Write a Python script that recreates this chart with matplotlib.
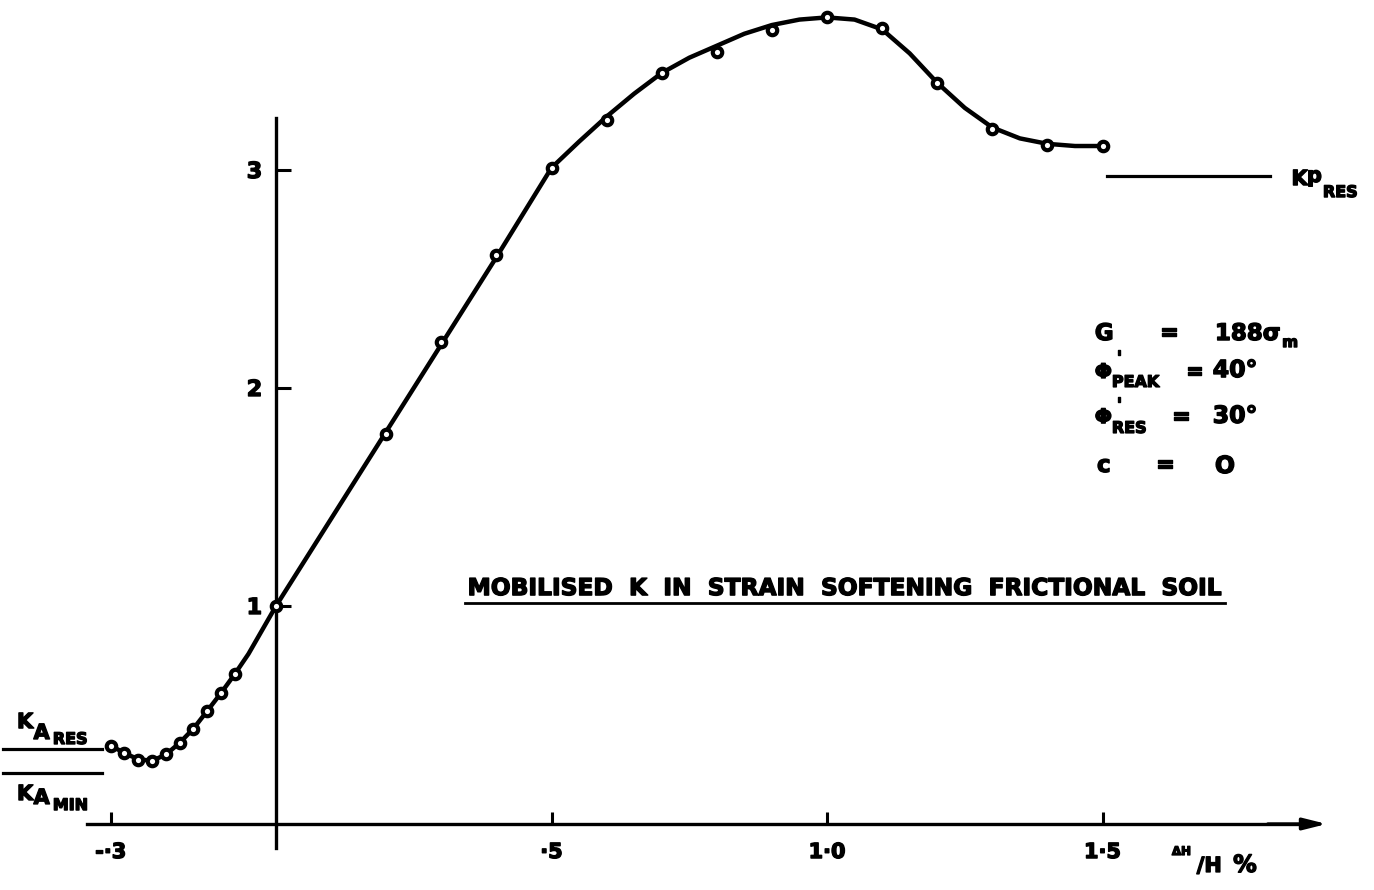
import matplotlib
matplotlib.use("Agg")
import matplotlib.pyplot as plt
import matplotlib.patheffects as pe

plt.rcParams['font.family'] = ['DejaVu Sans']
plt.rcParams['font.weight'] = 'bold'

# measured points, Delta H / H (%) vs mobilised K
strain = [-0.3, -0.275, -0.25, -0.225, -0.2, -0.175, -0.15, -0.125, -0.1, -0.075,
          0.0, 0.2, 0.3, 0.4, 0.5, 0.6, 0.7, 0.8, 0.9, 1.0,
          1.1, 1.2, 1.3, 1.4, 1.5]
k_mob = [0.36, 0.325, 0.295, 0.29, 0.32, 0.372, 0.437, 0.518, 0.60, 0.687,
         1.0, 1.79, 2.21, 2.61, 3.01, 3.23, 3.445, 3.54, 3.64, 3.70,
         3.65, 3.40, 3.19, 3.115, 3.11]

# hand drawn curve through the points
curve_x = [-0.3, -0.275, -0.25, -0.225, -0.2, -0.175, -0.15, -0.125, -0.1, -0.075,
           -0.05, -0.025, 0.0, 0.1, 0.2, 0.3, 0.4, 0.5, 0.55, 0.6,
           0.65, 0.7, 0.75, 0.8, 0.85, 0.9, 0.95, 1.0, 1.05, 1.1,
           1.15, 1.2, 1.25, 1.3, 1.35, 1.4, 1.45, 1.5]
curve_y = [0.36, 0.325, 0.297, 0.29, 0.318, 0.372, 0.437, 0.518, 0.60, 0.687,
           0.78, 0.89, 1.0, 1.4, 1.8, 2.2, 2.6, 3.01, 3.13, 3.245,
           3.35, 3.445, 3.515, 3.57, 3.625, 3.665, 3.69, 3.70, 3.69, 3.645,
           3.535, 3.40, 3.285, 3.195, 3.145, 3.12, 3.11, 3.11]

# limiting earth pressure coefficients
KA_RES = 0.344
KA_MIN = 0.233
KP_RES = 2.974

xticks = [-0.3, 0.5, 1.0, 1.5]
xtick_labels = ['-·3', '·5', '1·0', '1·5']
yticks = [1, 2, 3]
ytick_labels = ['1', '2', '3']

heavy = [pe.withStroke(linewidth=1.0, foreground='black')]


def lab(x, y, s, size, **kw):
    return ax.text(x, y, s, fontsize=size, fontweight='bold', va='baseline',
                   path_effects=heavy, **kw)


fig = plt.figure(figsize=(13.74, 8.90), dpi=100)
ax = fig.add_axes([0, 0, 1, 1])
ax.set_xlim(-0.5009, 1.9927)
ax.set_ylim(-0.3028, 3.7798)
ax.patch.set_alpha(0)

for s in ['top', 'right']:
    ax.spines[s].set_visible(False)
ax.spines['left'].set_position(('data', 0))
ax.spines['bottom'].set_position(('data', 0))
ax.spines['left'].set_bounds(-0.11, 3.24)
ax.spines['bottom'].set_bounds(-0.343, 1.86)
ax.spines['left'].set_linewidth(2.4)
ax.spines['bottom'].set_linewidth(2.4)

ax.set_xticks(xticks)
ax.set_xticklabels(xtick_labels, fontsize=15, fontweight='bold')
ax.set_yticks(yticks)
ax.set_yticklabels(ytick_labels, fontsize=16, fontweight='bold')
ax.tick_params(axis='x', direction='in', length=9, width=2.2, pad=13)
ax.tick_params(axis='y', direction='in', length=11, width=2.2, pad=10)
for t in ax.get_xticklabels() + ax.get_yticklabels():
    t.set_path_effects(heavy)

# arrow head on the strain axis
ax.annotate('', xy=(1.907, 0), xytext=(1.80, 0),
            arrowprops=dict(arrowstyle='-|>,head_length=1.4,head_width=0.35',
                            color='black', lw=2.4, shrinkA=0, shrinkB=0))

ax.plot(curve_x, curve_y, color='black', lw=3.2, solid_capstyle='round',
        solid_joinstyle='round', zorder=3)
ax.plot(strain, k_mob, 'o', ms=6.8, mfc='white', mec='black', mew=3.0, zorder=4)

# reference levels
ax.plot([-0.495, -0.316], [KA_RES, KA_RES], color='black', lw=2.3, clip_on=False)
ax.plot([-0.495, -0.316], [KA_MIN, KA_MIN], color='black', lw=2.3, clip_on=False)
ax.plot([1.508, 1.804], [KP_RES, KP_RES], color='black', lw=2.3)

lab(-0.470, 0.440, 'K', 15)
lab(-0.440, 0.390, 'A', 15)
lab(-0.405, 0.367, 'RES', 11.5)
lab(-0.470, 0.110, 'K', 15)
lab(-0.440, 0.092, 'A', 15)
lab(-0.405, 0.064, 'MIN', 11.5)

lab(1.843, 2.931, 'K', 15)
lab(1.871, 2.945, 'p', 15)
lab(1.900, 2.876, 'RES', 11.5)

# axis label
lab(1.626, -0.142, 'ΔH', 8.5)
lab(1.671, -0.220, '/H', 15)
lab(1.737, -0.220, '%', 17)

# soil parameters
lab(1.486, 2.220, 'G', 16.5)
lab(1.604, 2.225, '=', 16)
lab(1.704, 2.220, '188σ', 16.5)
lab(1.826, 2.188, 'm', 11)

lab(1.486, 2.046, 'Φ', 14.5)
lab(1.525, 2.110, "'", 14)
lab(1.517, 2.005, 'PEAK', 11.5)
lab(1.650, 2.046, '=', 16)
lab(1.700, 2.050, '40°', 17)

lab(1.486, 1.839, 'Φ', 14.5)
lab(1.525, 1.894, "'", 14)
lab(1.517, 1.794, 'RES', 11.5)
lab(1.626, 1.840, '=', 16)
lab(1.700, 1.840, '30°', 17)

lab(1.490, 1.615, 'c', 16.5)
lab(1.597, 1.620, '=', 16)
lab(1.704, 1.610, 'O', 17)

# title, underlined
lab(1.032, 1.050, 'MOBILISED  K  IN  STRAIN  SOFTENING  FRICTIONAL  SOIL', 16.8,
    ha='center')
ax.plot([0.343, 1.722], [1.012, 1.012], color='black', lw=2.0)

fig.savefig('out.png', dpi=100, facecolor='white')
